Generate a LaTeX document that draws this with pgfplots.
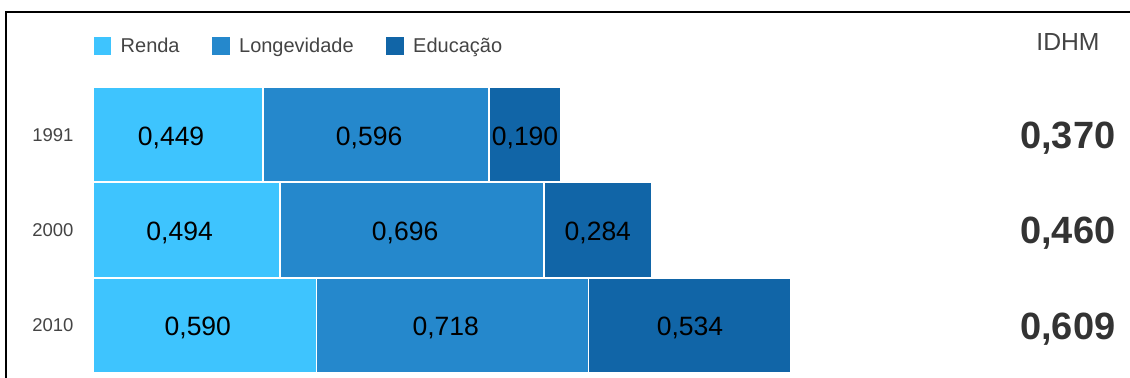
\documentclass[border=0pt]{standalone}
\usepackage{pgfplots}
\pgfplotsset{compat=1.18}
\usepackage{fontspec}
\setmainfont{Liberation Sans}
\definecolor{renda}{HTML}{3EC4FE}
\definecolor{longev}{HTML}{2588CC}
\definecolor{educ}{HTML}{1165A7}
\definecolor{gtext}{HTML}{444444}
\newcommand{\fs}[1]{\fontsize{#1}{#1}\selectfont}
\begin{document}
\begin{tikzpicture}
\path[use as bounding box] (0,0) rectangle (1130bp,378bp);
\draw[line width=2bp] (6bp,0) -- (6bp,366bp) -- (1130bp,366bp);
\node[text=gtext, inner sep=0pt] at (1068bp,336bp) {\fs{24.7bp}IDHM};
\begin{axis}[
  at={(93bp,5bp)}, anchor=south west, scale only axis,
  width=947.5bp, height=286bp,
  xmin=0, xmax=2.5, ymin=-0.5, ymax=2.5, y dir=reverse,
  xbar stacked, bar width=95bp,
  axis x line=none, axis y line*=left,
  y axis line style={-, draw=black!80, line width=1.5bp},
  ytick={0,1,2}, yticklabels={1991,2000,2010},
  ytick style={draw=none},
  yticklabel style={font=\fs{18.5bp}, text=gtext, xshift=-16bp},
  clip=false,
  visualization depends on=rawx \as \rawx,
  nodes near coords={\pgfmathprintnumber[fixed, fixed zerofill, precision=3, use comma, assume math mode=true]{\rawx}},
  every node near coord/.append style={anchor=center, font=\fs{26.5bp}, text=black, yshift=-3bp},
  legend columns=3,
  legend style={at={(rel axis cs:0,0)}, anchor=west, xshift=-1bp, yshift=327bp, draw=none, fill=none, inner sep=0pt,
    font=\fs{20bp}, text=gtext,
    nodes={inner sep=0pt},
    /tikz/every odd column/.append style={column sep=8bp},
    /tikz/every even column/.append style={column sep=31bp}},
  legend image code/.code={\fill[#1] (0bp,-10bp) rectangle (19bp,10bp);},
]
\addplot[fill=renda, draw=white, line width=1.5bp, every node near coord/.append style={xshift=-7bp}]
  coordinates {(0.449,0) (0.494,1) (0.590,2)};
\addplot[fill=longev, draw=white, line width=1.5bp, every node near coord/.append style={xshift=-7bp}]
  coordinates {(0.596,0) (0.696,1) (0.718,2)};
\addplot[fill=educ, draw=white, line width=1.5bp]
  coordinates {(0.190,0) (0.284,1) (0.534,2)};
\legend{Renda, Longevidade, Educação}
\end{axis}
\begin{axis}[
  at={(93bp,5bp)}, anchor=south west, scale only axis,
  width=923bp, height=286bp,
  xmin=0, xmax=1, ymin=-0.5, ymax=2.5, y dir=reverse,
  axis x line=none, axis y line*=right,
  y axis line style={draw=none},
  ytick={0,1,2}, yticklabels={{0,370},{0,460},{0,609}},
  ytick style={draw=none},
  yticklabel style={font=\bfseries\fs{38bp}, text=black!80, anchor=west, inner sep=0pt, xshift=4bp, yshift=-3.5bp},
]
\addplot[draw=none, forget plot] coordinates {(0,0)};
\end{axis}
\end{tikzpicture}
\end{document}
